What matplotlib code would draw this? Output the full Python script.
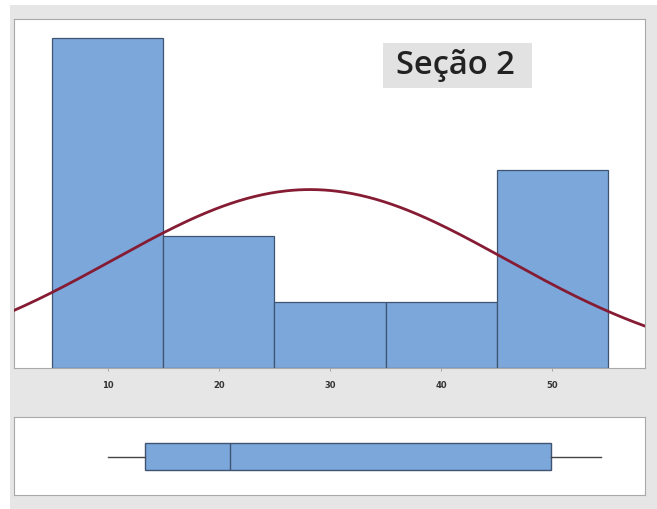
import numpy as np
import matplotlib
matplotlib.use("Agg")
import matplotlib.pyplot as plt
from matplotlib.patches import Rectangle

# Histogram of the section-2 scores
bin_edges = [5, 15, 25, 35, 45, 55]
counts = [5, 2, 1, 1, 3]
tick_values = [10, 20, 30, 40, 50]
tick_labels = ["10", "20", "30", "40", "50"]

# Fitted normal curve parameters
fit_mean = 28.2
fit_sd = 17.7

# Boxplot five-number summary
box_stats = dict(whislo=10.0, q1=13.4, med=21.0, q3=49.9, whishi=54.4)

title = "Seção 2"

W, H = 657, 509
fig = plt.figure(figsize=(W / 100, H / 100), dpi=100, facecolor="white")

bg = "#e6e6e6"
fig.patches.append(Rectangle((10 / W, 0), 1 - 10 / W, 1 - 5 / H,
                             transform=fig.transFigure, facecolor=bg,
                             edgecolor="none", zorder=-10))

xlim = (1.58, 58.33)
bar_face = "#7ba7db"
bar_edge = "#3f5470"
frame_col = "#a9a9a9"

# Histogram panel
ax = fig.add_axes([14 / W, 1 - 368 / H, 631 / W, 349 / H])
ax.set_facecolor("white")
widths = np.diff(bin_edges)
ax.bar(bin_edges[:-1], counts, width=widths, align="edge",
       color=bar_face, edgecolor=bar_edge, linewidth=0.9, zorder=2)
xs = np.linspace(xlim[0], xlim[1], 400)
scale = sum(counts) * widths[0]
pdf = np.exp(-0.5 * ((xs - fit_mean) / fit_sd) ** 2) / (fit_sd * np.sqrt(2 * np.pi))
ax.plot(xs, scale * pdf, color="#861c34", linewidth=2.0, zorder=3)
ax.set_xlim(*xlim)
ax.set_ylim(0, 5.29)
ax.set_yticks([])
ax.set_xticks(tick_values)
ax.set_xticklabels(tick_labels, fontsize=6, fontweight="bold", color="#333333")
ax.tick_params(axis="x", length=2, width=0.6, color="#999999", pad=7)
for s in ax.spines.values():
    s.set_color(frame_col)
    s.set_linewidth(0.8)

# Title label with its grey plate
fig.patches.append(Rectangle((383 / W, 1 - 88 / H), 149 / W, 45 / H,
                             transform=fig.transFigure, facecolor="#e2e2e2",
                             edgecolor="none", zorder=5))
fig.text(455 / W, 1 - 66 / H, title, ha="center", va="center",
         fontsize=23.5, family="Open Sans", fontweight="semibold",
         color="#222222", zorder=6)

# Boxplot panel
bx = fig.add_axes([14 / W, 1 - 495 / H, 631 / W, 78 / H])
bx.set_facecolor("white")
bx.bxp([box_stats], positions=[0.49], widths=0.35, vert=False,
       showfliers=False, showcaps=False, patch_artist=True,
       boxprops=dict(facecolor=bar_face, edgecolor=bar_edge, linewidth=1.0),
       medianprops=dict(color=bar_edge, linewidth=1.0),
       whiskerprops=dict(color="#444444", linewidth=1.0))
bx.set_xlim(*xlim)
bx.set_ylim(0, 1)
bx.set_xticks([])
bx.set_yticks([])
for s in bx.spines.values():
    s.set_color(frame_col)
    s.set_linewidth(0.8)

fig.savefig("out.png", dpi=100, facecolor=fig.get_facecolor())
